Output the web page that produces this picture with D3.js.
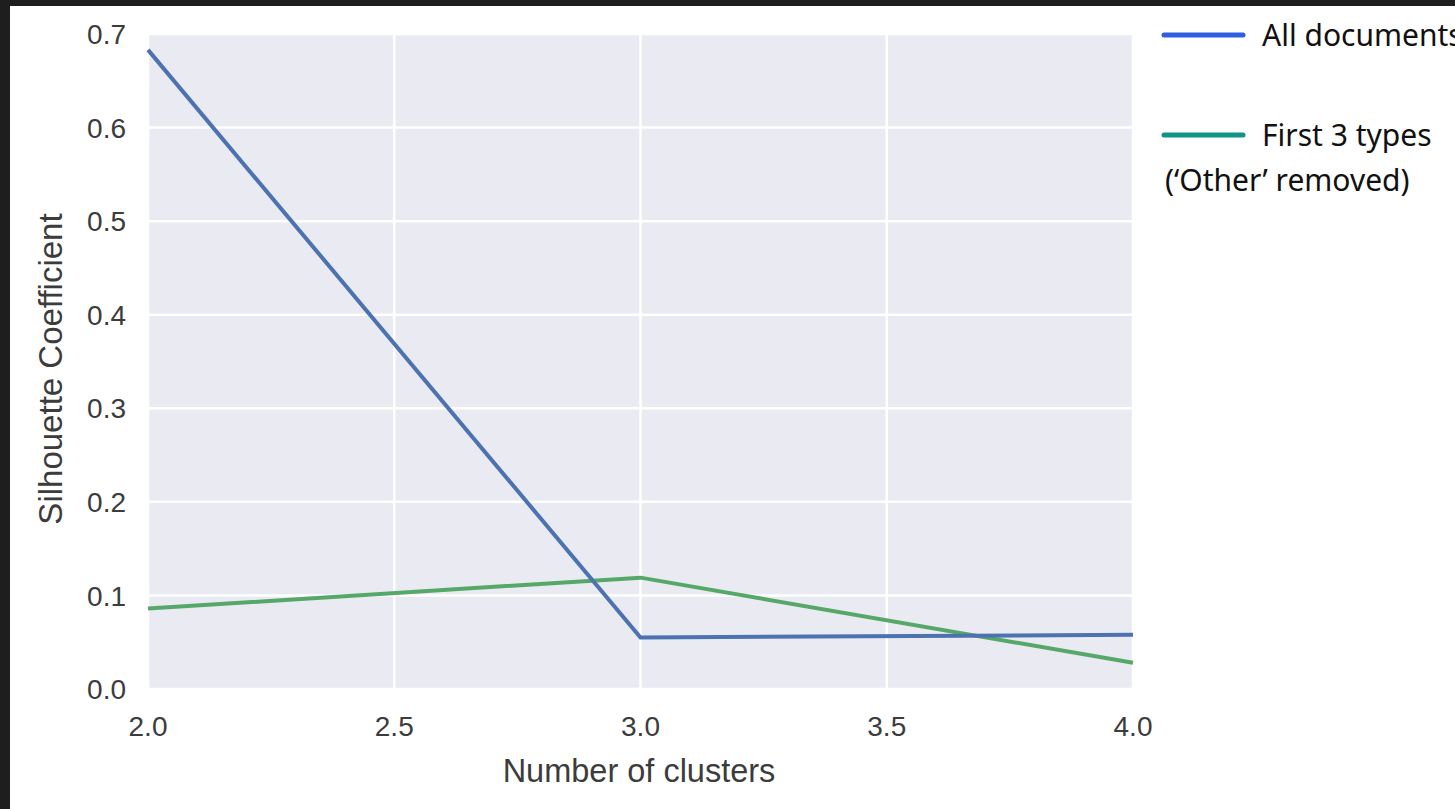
<!DOCTYPE html>
<html lang="en">
<head>
<meta charset="utf-8">
<title>Silhouette coefficient by number of clusters</title>
<script src="https://d3js.org/d3.v7.min.js"></script>
<style>
  body { margin: 0; background: #ffffff; overflow: hidden; }
</style>
</head>
<body>
<script type="text/javascript">

// data
var clusters = [2, 3, 4];
var allDocs = [0.683, 0.055, 0.058];
var first3 = [0.086, 0.119, 0.028];
var xTicks = [2.0, 2.5, 3.0, 3.5, 4.0];
var yTicks = [0.0, 0.1, 0.2, 0.3, 0.4, 0.5, 0.6, 0.7];
var legendLabels = [["All documents"], ["First 3 types", "(\u2018Other\u2019 removed)"]];

var w = 1455, h = 809;

var svg = d3.select("body").append("svg")
    .attr("width", w)
    .attr("height", h);

// dark screenshot frame top / left
svg.append("rect").attr("x", 0).attr("y", 0).attr("width", w).attr("height", 6).attr("fill", "#1e1e1e");
svg.append("rect").attr("x", 0).attr("y", 0).attr("width", 10).attr("height", h).attr("fill", "#1e1e1e");

// plot area
var pLeft = 148, pRight = 1133, pTop = 34, pBottom = 689;

var x = d3.scaleLinear().domain([2, 4]).range([pLeft, pRight]);
var y = d3.scaleLinear().domain([0, 0.7]).range([pBottom, pTop]);

svg.append("rect")
   .attr("x", pLeft).attr("y", pTop)
   .attr("width", pRight - pLeft).attr("height", pBottom - pTop)
   .attr("fill", "#eaeaf2");

// grid
svg.selectAll("line.gy")
   .data(yTicks)
   .enter().append("line")
   .attr("class", "gy")
   .attr("x1", pLeft).attr("x2", pRight)
   .attr("y1", function(d) { return y(d); })
   .attr("y2", function(d) { return y(d); })
   .attr("stroke", "#ffffff")
   .attr("stroke-width", 2.5);

svg.selectAll("line.gx")
   .data(xTicks)
   .enter().append("line")
   .attr("class", "gx")
   .attr("y1", pTop).attr("y2", pBottom)
   .attr("x1", function(d) { return x(d); })
   .attr("x2", function(d) { return x(d); })
   .attr("stroke", "#ffffff")
   .attr("stroke-width", 2.5);

// tick labels
svg.selectAll("text.ty")
   .data(yTicks)
   .enter().append("text")
   .attr("class", "ty")
   .attr("x", pLeft - 22)
   .attr("y", function(d) { return y(d); })
   .attr("dy", "0.36em")
   .attr("text-anchor", "end")
   .attr("font-family", "Liberation Sans, Arial, sans-serif")
   .attr("font-size", "28px")
   .attr("fill", "#3c3c3c")
   .text(function(d) { return d.toFixed(1); });

svg.selectAll("text.tx")
   .data(xTicks)
   .enter().append("text")
   .attr("class", "tx")
   .attr("x", function(d) { return x(d); })
   .attr("y", pBottom + 47)
   .attr("text-anchor", "middle")
   .attr("font-family", "Liberation Sans, Arial, sans-serif")
   .attr("font-size", "28px")
   .attr("fill", "#3c3c3c")
   .text(function(d) { return d.toFixed(1); });

// axis titles
svg.append("text")
   .attr("x", 639)
   .attr("y", 782)
   .attr("text-anchor", "middle")
   .attr("font-family", "Liberation Sans, Arial, sans-serif")
   .attr("font-size", "32.5px")
   .attr("fill", "#3c3c3c")
   .text("Number of clusters");

svg.append("text")
   .attr("transform", "translate(62," + 369 + ") rotate(-90)")
   .attr("text-anchor", "middle")
   .attr("font-family", "Liberation Sans, Arial, sans-serif")
   .attr("font-size", "33px")
   .attr("fill", "#3c3c3c")
   .text("Silhouette Coefficient");

// lines
var line = d3.line()
    .x(function(d) { return x(d[0]); })
    .y(function(d) { return y(d[1]); });

var series = [
  { values: d3.zip(clusters, first3), color: "#55a868" },
  { values: d3.zip(clusters, allDocs), color: "#4c72b0" }
];

svg.selectAll("path.series")
   .data(series)
   .enter().append("path")
   .attr("class", "series")
   .attr("d", function(d) { return line(d.values); })
   .attr("fill", "none")
   .attr("stroke", function(d) { return d.color; })
   .attr("stroke-width", 4);

// legend (drawn beside the chart, text runs past the right edge)
var legendColors = ["#2f5fde", "#119488"];
var legendY = [35, 135];

var lg = svg.selectAll("g.legend")
   .data(legendLabels)
   .enter().append("g")
   .attr("class", "legend");

lg.append("line")
   .attr("x1", 1164).attr("x2", 1243)
   .attr("y1", function(d, i) { return legendY[i]; })
   .attr("y2", function(d, i) { return legendY[i]; })
   .attr("stroke", function(d, i) { return legendColors[i]; })
   .attr("stroke-width", 5)
   .attr("stroke-linecap", "round");

lg.each(function(d, i) {
  var g = d3.select(this);
  d.forEach(function(t, j) {
    g.append("text")
     .attr("x", j === 0 ? 1262 : 1165)
     .attr("y", legendY[i] + 11 + j * 45)
     .attr("font-family", "Noto Sans, Open Sans, sans-serif")
     .attr("font-size", "30px")
     .attr("fill", "#111111")
     .text(t);
  });
});

</script>
</body>
</html>
